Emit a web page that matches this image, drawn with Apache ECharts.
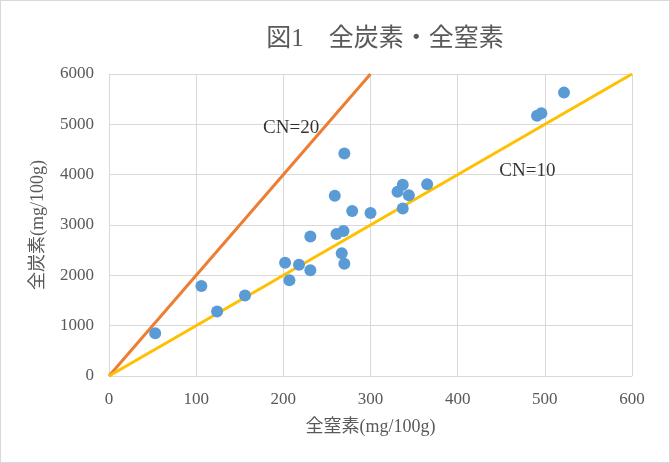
<!DOCTYPE html>
<html>
<head>
<meta charset="utf-8">
<script src="https://cdn.jsdelivr.net/npm/echarts@6/dist/echarts.min.js"></script>
<style>
html,body{margin:0;padding:0;background:#fff;}
#chartID{width:670px;height:463px;box-sizing:border-box;border:1px solid #d9d9d9;}
</style>
</head>
<body>
<div id="chartID"></div>
<script>
//全窒素・全炭素 (mg/100g)
var nitrogenArray=[53, 106, 124, 156, 202, 207, 218, 231, 231, 259, 261, 269, 267, 270, 270, 279, 300, 331, 337, 337, 344, 365, 491, 496, 522];
var carbonArray=[850, 1790, 1280, 1600, 2250, 1900, 2210, 2770, 2100, 3580, 2820, 2880, 2440, 2230, 4420, 3280, 3240, 3660, 3800, 3330, 3590, 3810, 5170, 5220, 5630];
//CN比の基準線
var cn20Line=[[0, 0], [300, 6000]];
var cn10Line=[[0, 0], [600, 6000]];
var xTicks=[0, 600, 100];
var yTicks=[0, 6000, 1000];

var serif='"Liberation Serif","DejaVu Serif","Noto Sans CJK JP",serif';
var pointData=[];
for(var i=0;i<nitrogenArray.length;i++){
	pointData.push([nitrogenArray[i], carbonArray[i]]);
}

var chart=echarts.init(document.getElementById('chartID'));
var option={
	animation:false,
	title:{
		text:'図1　全炭素・全窒素',
		left:379,
		top:21,
		textAlign:'center',
		textStyle:{
			color:'#595959',
			fontWeight:'normal',
			fontSize:25,
			fontFamily:serif
		}
	},
	grid:{
		left:108,
		right:37,
		top:73,
		bottom:86,
		containLabel:false
	},
	xAxis:{
		type:'value',
		min:xTicks[0],
		max:xTicks[1],
		interval:xTicks[2],
		name:'全窒素(mg/100g)',
		nameLocation:'middle',
		nameGap:42,
		nameTextStyle:{color:'#595959',fontSize:18,fontFamily:serif},
		axisTick:{show:false},
		axisLine:{show:true,lineStyle:{color:'#d9d9d9',width:1}},
		splitLine:{show:true,lineStyle:{color:'#d9d9d9'}},
		axisLabel:{color:'#595959',fontSize:17,fontFamily:serif,margin:15}
	},
	yAxis:{
		type:'value',
		min:yTicks[0],
		max:yTicks[1],
		interval:yTicks[2],
		name:'全炭素(mg/100g)',
		nameLocation:'middle',
		nameGap:62,
		nameRotate:90,
		nameTextStyle:{color:'#595959',fontSize:18,fontFamily:serif},
		axisTick:{show:false},
		axisLine:{show:true,lineStyle:{color:'#d9d9d9',width:1}},
		splitLine:{show:true,lineStyle:{color:'#d9d9d9'}},
		axisLabel:{color:'#595959',fontSize:17,fontFamily:serif,margin:15,
			formatter:function(val){return String(val);}}
	},
	series:[{
			name:'CN=20',
			type:'line',
			data:cn20Line,
			symbol:'none',
			lineStyle:{color:'#ED7D31',width:3},
			z:2
		},{
			name:'CN=10',
			type:'line',
			data:cn10Line,
			symbol:'none',
			lineStyle:{color:'#FFC000',width:3},
			z:2
		},{
			name:'全炭素',
			type:'scatter',
			data:pointData,
			symbol:'circle',
			symbolSize:12,
			itemStyle:{color:'#5B9BD5',opacity:1},
			z:3
		},{
			name:'label',
			type:'scatter',
			data:[
				{value:[209,4920],label:{formatter:'CN=20'}},
				{value:[480,4080],label:{formatter:'CN=10'}}
			],
			symbolSize:1,
			itemStyle:{color:'rgba(0,0,0,0)'},
			silent:true,
			label:{show:true,position:'inside',color:'#000',fontSize:19,fontFamily:serif},
			z:4
		}
	]
};
chart.setOption(option);
</script>
</body>
</html>
